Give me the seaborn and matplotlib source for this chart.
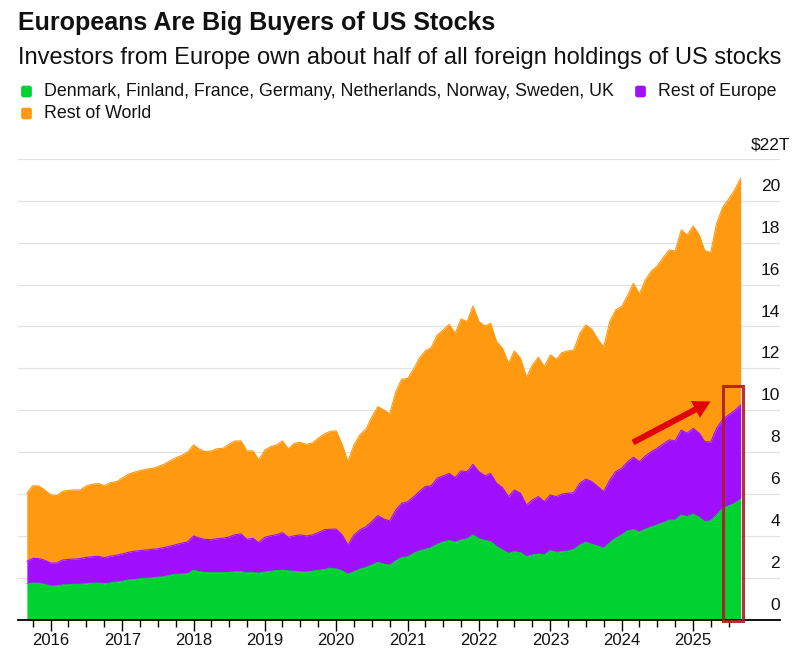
#!/usr/bin/env python3
"""Foreign holdings of US stocks, stacked by investor region."""

import matplotlib

matplotlib.use("Agg")
import matplotlib.dates as mdates
import matplotlib.patches as mpatches
import matplotlib.pyplot as plt
import matplotlib.transforms as mtransforms
import pandas as pd
import seaborn as sns

# 单位: 万亿美元, 读取自原图, 每月一个点 (2015-09 .. 2025-09), 均为堆叠后的上沿
months = pd.date_range("2015-09-01", "2025-09-01", freq="MS")

green_top = [
    1.71, 1.74, 1.73, 1.68, 1.60, 1.60, 1.65, 1.66, 1.68, 1.68, 1.71, 1.73,
    1.74, 1.71, 1.74, 1.79, 1.82, 1.89, 1.90, 1.94, 1.97, 1.98, 2.02, 2.04,
    2.11, 2.16, 2.17, 2.19, 2.35, 2.28, 2.24, 2.24, 2.24, 2.24, 2.25, 2.28,
    2.28, 2.22, 2.24, 2.21, 2.27, 2.30, 2.33, 2.36, 2.32, 2.30, 2.27, 2.27,
    2.30, 2.35, 2.38, 2.45, 2.41, 2.32, 2.16, 2.28, 2.40, 2.49, 2.60, 2.73,
    2.64, 2.59, 2.81, 2.95, 3.00, 3.16, 3.27, 3.35, 3.43, 3.59, 3.70, 3.77,
    3.69, 3.80, 3.85, 4.04, 3.85, 3.77, 3.72, 3.48, 3.32, 3.16, 3.24, 3.19,
    3.00, 3.08, 3.13, 3.08, 3.29, 3.21, 3.24, 3.27, 3.35, 3.56, 3.69, 3.59,
    3.51, 3.40, 3.67, 3.88, 4.04, 4.24, 4.29, 4.18, 4.31, 4.42, 4.52, 4.62,
    4.74, 4.75, 4.99, 4.91, 5.03, 4.88, 4.67, 4.72, 4.99, 5.31, 5.42, 5.55,
    5.74,
]
europe_top = [
    2.78, 2.92, 2.91, 2.83, 2.70, 2.70, 2.84, 2.87, 2.89, 2.91, 2.97, 3.00,
    3.02, 2.95, 3.02, 3.07, 3.13, 3.21, 3.26, 3.29, 3.32, 3.35, 3.38, 3.43,
    3.50, 3.57, 3.65, 3.70, 3.99, 3.89, 3.83, 3.81, 3.86, 3.88, 3.94, 4.05,
    4.09, 3.83, 3.88, 3.67, 3.93, 4.00, 4.05, 4.15, 3.93, 4.00, 4.04, 3.99,
    4.04, 4.15, 4.29, 4.31, 4.32, 4.04, 3.56, 4.04, 4.28, 4.43, 4.67, 4.96,
    4.80, 4.71, 5.23, 5.55, 5.63, 5.87, 6.11, 6.35, 6.39, 6.75, 6.86, 6.98,
    6.78, 7.10, 7.06, 7.41, 7.06, 6.86, 6.98, 6.51, 6.30, 5.87, 6.19, 6.03,
    5.47, 5.71, 5.87, 5.63, 5.95, 5.87, 5.99, 6.03, 6.06, 6.51, 6.71, 6.59,
    6.35, 6.11, 6.66, 7.06, 7.22, 7.54, 7.75, 7.54, 7.81, 8.02, 8.18, 8.39,
    8.58, 8.54, 9.05, 8.90, 9.13, 8.90, 8.50, 8.48, 9.13, 9.56, 9.77, 9.98,
    10.25,
]
world_top = [
    6.03, 6.39, 6.38, 6.19, 5.95, 5.92, 6.12, 6.17, 6.19, 6.19, 6.38, 6.46,
    6.49, 6.39, 6.54, 6.58, 6.75, 6.94, 7.03, 7.11, 7.18, 7.21, 7.30, 7.41,
    7.57, 7.72, 7.84, 7.99, 8.34, 8.13, 8.02, 8.05, 8.16, 8.18, 8.37, 8.53,
    8.53, 8.05, 8.06, 7.62, 8.10, 8.26, 8.34, 8.53, 8.15, 8.42, 8.46, 8.37,
    8.43, 8.66, 8.86, 8.99, 9.01, 8.34, 7.54, 8.34, 8.82, 9.09, 9.66, 10.17,
    10.01, 9.82, 10.88, 11.48, 11.52, 11.97, 12.48, 12.83, 12.99, 13.59, 13.83, 14.10,
    13.67, 14.36, 14.23, 14.98, 14.23, 14.02, 14.15, 13.27, 12.96, 12.24, 12.83, 12.48,
    11.57, 12.16, 12.53, 12.08, 12.64, 12.43, 12.75, 12.83, 12.88, 13.67, 14.07, 13.87,
    13.39, 13.01, 14.23, 14.79, 14.95, 15.50, 16.06, 15.55, 16.22, 16.65, 16.89, 17.30,
    17.65, 17.60, 18.61, 18.37, 18.80, 18.37, 17.62, 17.54, 18.93, 19.69, 20.08, 20.52,
    21.08,
]

series_labels = [
    "Denmark, Finland, France, Germany, Netherlands, Norway, Sweden, UK",
    "Rest of Europe",
    "Rest of World",
]
y_ticks = list(range(0, 24, 2))
y_labels = [str(v) for v in y_ticks[:-1]] + ["$22T"]
year_ticks = pd.date_range("2016-01-01", "2025-01-01", freq="YS")
quarter_ticks = pd.date_range("2015-10-01", "2025-07-01", freq="QS")

GREEN = "#00D232"
PURPLE = "#A010FF"
ORANGE = "#FF9A10"
RED = "#E2000B"
BOX_RED = "#B01A22"
FONT = "Liberation Sans"

sns.set_theme(style="white")
plt.rcParams["font.family"] = [FONT, "DejaVu Sans"]

df = pd.DataFrame({
    "month": months,
    "green": green_top,
    "europe": europe_top,
    "world": world_top,
})

fig = plt.figure(figsize=(8, 6.65), dpi=100)
# 坐标区按原图像素放置: x 18..780, y 159..619.5
ax = fig.add_axes([18 / 800, (665 - 619.5) / 665, 762 / 800, 460.5 / 665])

ax.fill_between(df["month"], df["europe"], df["world"], color=ORANGE, lw=0, zorder=2)
ax.fill_between(df["month"], df["green"], df["europe"], color=PURPLE, lw=0, zorder=2)
ax.fill_between(df["month"], 0, df["green"], color=GREEN, lw=0, zorder=2)
sns.lineplot(data=df, x="month", y="world", color=ORANGE, lw=0.8, ax=ax, zorder=3)
sns.lineplot(data=df, x="month", y="europe", color=PURPLE, lw=0.8, ax=ax, zorder=3)
sns.lineplot(data=df, x="month", y="green", color=GREEN, lw=0.8, ax=ax, zorder=3)

# 71.37 px 一年, 2016 年刻度在 x=50.7
days_per_px = 365.25 / 71.37
origin = pd.Timestamp("2016-01-01")
ax.set_xlim(origin - pd.Timedelta(days=(50.7 - 18) * days_per_px),
            origin + pd.Timedelta(days=(780 - 50.7) * days_per_px))
ax.set_ylim(0, 22)
ax.set_xlabel("")
ax.set_ylabel("")

ax.set_xticks(year_ticks)
ax.xaxis.set_major_formatter(mdates.DateFormatter("%Y"))
ax.set_xticks(quarter_ticks, minor=True)
ax.tick_params(axis="x", which="major", bottom=True, length=8, width=1.0, color="black",
               labelsize=12, pad=1.5, labelcolor="#111111")
ax.tick_params(axis="x", which="minor", bottom=True, length=5, width=1.0, color="black")

ax.yaxis.tick_right()
ax.set_yticks(y_ticks, labels=y_labels)
ax.tick_params(axis="y", right=False, left=False, length=0, labelsize=12.5, pad=0,
               labelcolor="#111111")
ax.grid(axis="y", color="#E2E2E2", lw=0.9)
ax.set_axisbelow(True)

# 数字放在网格线上方, 右对齐
for value, label in zip(y_ticks, ax.get_yticklabels()):
    dx = 10 if value == 22 else 0
    offset = mtransforms.ScaledTranslation(dx / 100, 14.4 / 100, fig.dpi_scale_trans)
    label.set_transform(label.get_transform() + offset)
    label.set_ha("right")
    label.set_va("center")

sns.despine(ax=ax, left=True, right=True, top=True)
ax.spines["bottom"].set_color("black")
ax.spines["bottom"].set_linewidth(1.3)

# 标题, 图例和红色标注画在一层像素坐标上
overlay = fig.add_axes([0, 0, 1, 1], facecolor="none")
overlay.set_xlim(0, 800)
overlay.set_ylim(665, 0)
overlay.set_axis_off()

overlay.text(18, 23, "Europeans Are Big Buyers of US Stocks", fontsize=18,
             fontweight="bold", color="#111111", va="center", ha="left")
overlay.text(18, 58, "Investors from Europe own about half of all foreign holdings of US stocks",
             fontsize=17, color="#111111", va="center", ha="left")

legend_items = [(21.5, 44, 91, GREEN), (635.5, 658, 91, PURPLE), (21.5, 44, 113, ORANGE)]
for (box_x, text_x, text_y, color), name in zip(legend_items, series_labels):
    overlay.add_patch(mpatches.FancyBboxPatch(
        (box_x, text_y - 5), 10, 11, boxstyle="round,pad=0,rounding_size=2",
        fc=color, ec=color, lw=0.5))
    overlay.text(text_x, text_y, name, fontsize=12.8, color="#111111", va="center", ha="left")

overlay.add_patch(mpatches.Rectangle((723, 386), 20, 235, fill=False, ec=BOX_RED, lw=2.2, alpha=0.9))
overlay.add_patch(mpatches.FancyArrow(633, 442.5, 77.5, -41, width=6, head_width=19,
                                      head_length=17, length_includes_head=True,
                                      fc=RED, ec=RED, lw=0))

fig.savefig("out.png", dpi=100)
